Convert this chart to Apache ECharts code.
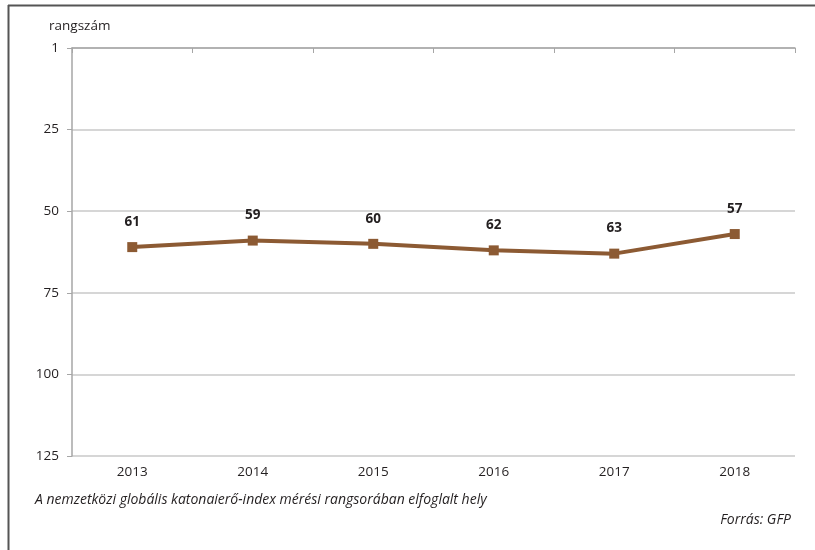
<!DOCTYPE html>
<html><head><meta charset="utf-8">
<script src="https://cdn.jsdelivr.net/npm/echarts@6/dist/echarts.min.js"></script>
<style>html,body{margin:0;padding:0;background:#fff}#c{width:815px;height:550px}</style>
</head><body><div id="c"></div>
<script>
const years = ['2013','2014','2015','2016','2017','2018'];
const ranks = [61, 59, 60, 62, 63, 57];
const yTicks = [0, 25, 50, 75, 100, 125];
const yTickLabels = ['1', '25', '50', '75', '100', '125'];
const yAxisName = 'rangszám';
const caption = 'A nemzetközi globális katonaierő-index mérési rangsorában elfoglalt hely';
const source = 'Forrás: GFP';

const font = '"Open Sans", "Noto Sans", sans-serif';
const chart = echarts.init(document.getElementById('c'), null, {renderer: 'canvas'});
chart.setOption({
  animation: false,
  backgroundColor: '#fff',
  textStyle: {fontFamily: font, color: '#231f20'},
  grid: {left: 72, right: 20, top: 48, bottom: 94},
  xAxis: {
    type: 'category', data: years, boundaryGap: true,
    axisLine: {lineStyle: {color: '#a6a6a6', width: 1.5}},
    axisTick: {show: true, length: 5, lineStyle: {color: '#a6a6a6'}},
    axisLabel: {color: '#231f20', fontSize: 13.5, margin: 9, fontFamily: font}
  },
  yAxis: {
    type: 'value', inverse: true, min: yTicks[0], max: yTicks[yTicks.length - 1], interval: 25,
    axisLine: {show: true, lineStyle: {color: '#a6a6a6', width: 1.5}},
    axisTick: {show: true, length: 5, lineStyle: {color: '#a6a6a6'}},
    splitLine: {show: true, lineStyle: {color: '#c8c8c8', width: 1.5}},
    axisLabel: {
      color: '#231f20', fontSize: 13.5, margin: 13, fontFamily: font,
      formatter: v => { const i = yTicks.indexOf(v); return i >= 0 ? yTickLabels[i] : ''; }
    }
  },
  series: [{
    type: 'line', data: ranks,
    symbol: 'rect', symbolSize: 10,
    lineStyle: {color: '#8c5a33', width: 4},
    itemStyle: {color: '#8c5a33'},
    label: {show: true, position: 'top', distance: 13, fontWeight: 'bold', fontSize: 13.5, color: '#231f20', fontFamily: font}
  }],
  graphic: [
    {type: 'line', shape: {x1: 8.5, y1: 5, x2: 8.5, y2: 550}, style: {stroke: '#555', lineWidth: 2}},
    {type: 'line', shape: {x1: 8, y1: 5.5, x2: 815, y2: 5.5}, style: {stroke: '#555', lineWidth: 2}},
    {type: 'text', left: 49, top: 19, style: {text: yAxisName, font: '13.5px ' + font, fill: '#231f20'}},
    {type: 'text', left: 35, top: 493, style: {text: caption, font: 'italic 14px ' + font, fill: '#231f20'}},
    {type: 'text', right: 24, top: 513, style: {text: source, font: 'italic 14px ' + font, fill: '#231f20'}}
  ]
});
</script></body></html>
